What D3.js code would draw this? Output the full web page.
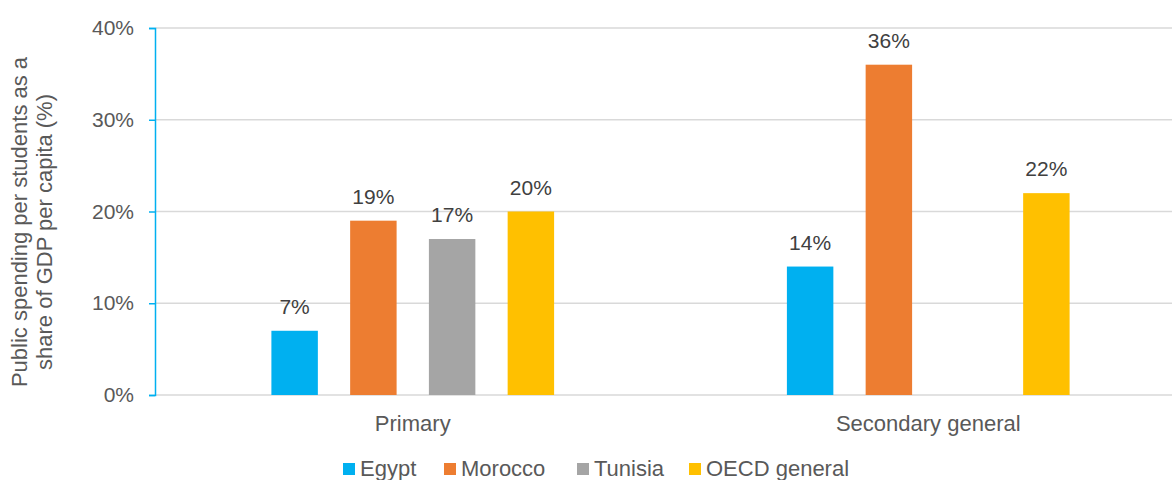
<!DOCTYPE html>
<html>
<head>
<meta charset="utf-8">
<script src="https://cdn.jsdelivr.net/npm/d3@7"></script>
<style>
  html, body { margin: 0; padding: 0; background: #fff; }
  svg { display: block; font-family: "Liberation Sans", Arial, sans-serif; }
</style>
</head>
<body>
<svg id="chart" width="1172" height="480"></svg>
<script>
// Education levels on the x axis
const categories = ["Primary", "Secondary general"];
// Series (countries / benchmark)
const seriesNames = ["Egypt", "Morocco", "Tunisia", "OECD general"];
const seriesColors = ["#00B0F0", "#ED7D31", "#A5A5A5", "#FFC000"];
// Public spending per student, % of GDP per capita (null = no data)
const egypt = [7, 14];
const morocco = [19, 36];
const tunisia = [17, null];
const oecdGeneral = [20, 22];
const yTicks = [0, 10, 20, 30, 40];

const seriesValues = [egypt, morocco, tunisia, oecdGeneral];

const svg = d3.select("#chart");
const W = 1172, H = 480;
const plotLeft = 155, plotRight = 1186;
const plotTop = 28, plotBottom = 395;

const x0 = d3.scaleBand().domain(categories).range([plotLeft, plotRight]);
const groupWidth = 315;
const x1 = d3.scaleBand().domain(seriesNames)
  .range([-groupWidth / 2, groupWidth / 2])
  .paddingInner(0.41).paddingOuter(0.205);
const y = d3.scaleLinear().domain([0, 40]).range([plotBottom, plotTop]);

const textColor = "#595959";
const labelColor = "#404040";
const fontFamily = "'Liberation Sans', Arial, sans-serif";

// Horizontal gridlines
svg.append("g")
  .selectAll("line")
  .data(yTicks)
  .join("line")
  .attr("x1", plotLeft).attr("x2", plotRight)
  .attr("y1", d => y(d)).attr("y2", d => y(d))
  .attr("stroke", "#d9d9d9").attr("stroke-width", 1.5);

// Y axis
const yAxis = d3.axisLeft(y).tickValues(yTicks).tickFormat(d => d + "%").tickSize(6).tickPadding(15);
const yg = svg.append("g").attr("transform", `translate(${plotLeft},0)`).call(yAxis);
yg.select(".domain").attr("stroke", "#00B0F0").attr("stroke-width", 1.5);
yg.selectAll(".tick line").attr("stroke", "#00B0F0").attr("stroke-width", 1.5);
yg.selectAll(".tick text").attr("fill", textColor).style("font-size", "21px")
  .style("font-family", fontFamily);

// Y axis title (two lines)
const titleLines = [
  { text: "Public spending per students as a", x: 27, y: 222 },
  { text: "share of GDP per capita (%)", x: 52, y: 232 }
];
svg.append("g")
  .selectAll("text")
  .data(titleLines)
  .join("text")
  .attr("transform", d => `translate(${d.x}, ${d.y}) rotate(-90)`)
  .attr("text-anchor", "middle")
  .attr("fill", textColor)
  .style("font-size", "22px")
  .text(d => d.text);

// Bars
const barData = [];
categories.forEach((c, ci) => {
  seriesNames.forEach((s, si) => {
    const v = seriesValues[si][ci];
    if (v !== null && v !== undefined) barData.push({ cat: c, series: s, color: seriesColors[si], value: v });
  });
});
const cx = c => x0(c) + x0.bandwidth() / 2;

svg.append("g")
  .selectAll("rect")
  .data(barData)
  .join("rect")
  .attr("x", d => cx(d.cat) + x1(d.series))
  .attr("width", x1.bandwidth())
  .attr("y", d => y(d.value))
  .attr("height", d => y(0) - y(d.value))
  .attr("fill", d => d.color);

// Value labels
svg.append("g")
  .selectAll("text")
  .data(barData)
  .join("text")
  .attr("x", d => cx(d.cat) + x1(d.series) + x1.bandwidth() / 2)
  .attr("y", d => y(d.value) - 17)
  .attr("text-anchor", "middle")
  .attr("fill", labelColor)
  .style("font-size", "21px")
  .text(d => d.value + "%");

// Category labels
svg.append("g")
  .selectAll("text")
  .data(categories)
  .join("text")
  .attr("x", d => cx(d))
  .attr("y", 431)
  .attr("text-anchor", "middle")
  .attr("fill", textColor)
  .style("font-size", "22px")
  .text(d => d);

// Legend
const legendX = [343, 444, 577, 689];
const legend = svg.append("g")
  .selectAll("g")
  .data(seriesNames)
  .join("g")
  .attr("transform", (d, i) => `translate(${legendX[i]}, 463)`);
legend.append("rect").attr("width", 12).attr("height", 12)
  .attr("fill", (d, i) => seriesColors[i]);
legend.append("text").attr("x", 17).attr("y", 13)
  .attr("fill", textColor).style("font-size", "22px")
  .text(d => d);
</script>
</body>
</html>
